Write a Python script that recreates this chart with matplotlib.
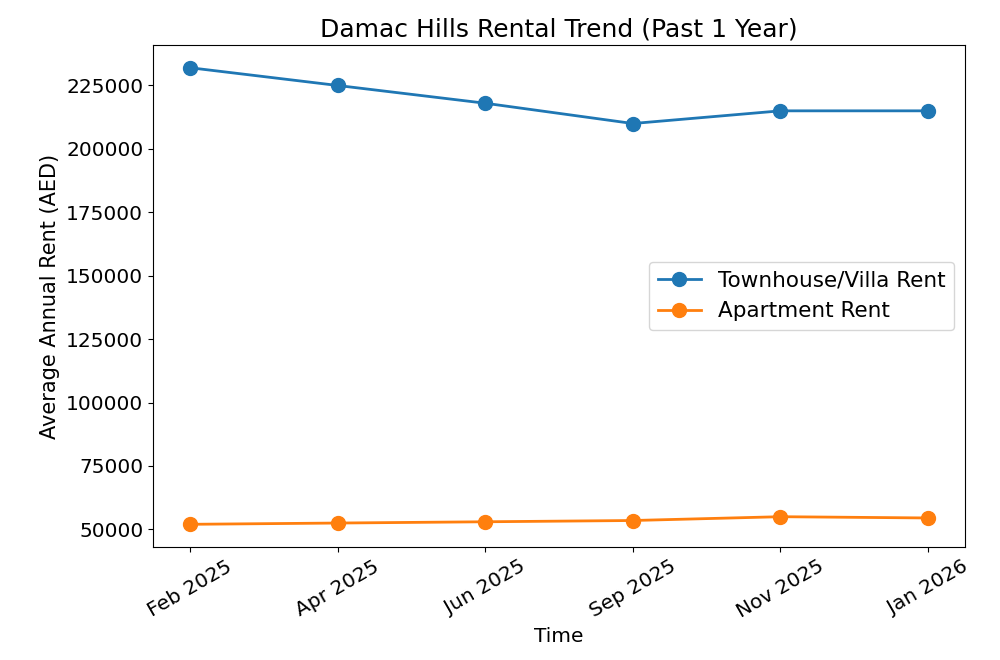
import matplotlib
matplotlib.use("Agg")
import matplotlib.pyplot as plt

# Data
months = ["Feb 2025", "Apr 2025", "Jun 2025", "Sep 2025", "Nov 2025", "Jan 2026"]
villa_rent = [232000, 225000, 218000, 210000, 215000, 215000]
apartment_rent = [52000, 52500, 53000, 53500, 55000, 54500]

fig, ax = plt.subplots(figsize=(10, 6.6), dpi=100)
fig.subplots_adjust(left=0.153, right=0.965, top=0.932, bottom=0.171)

ax.plot(months, villa_rent, marker="o", markersize=10, linewidth=2, label="Townhouse/Villa Rent")
ax.plot(months, apartment_rent, marker="o", markersize=10, linewidth=2, label="Apartment Rent")

ax.set_title("Damac Hills Rental Trend (Past 1 Year)", fontsize=18)
ax.set_xlabel("Time", fontsize=14.5)
ax.set_ylabel("Average Annual Rent (AED)", fontsize=15)
ax.tick_params(axis="both", labelsize=14.5)
plt.setp(ax.get_xticklabels(), rotation=30)
ax.legend(loc="center right", fontsize=15.5)

fig.savefig("out.png", dpi=100)
